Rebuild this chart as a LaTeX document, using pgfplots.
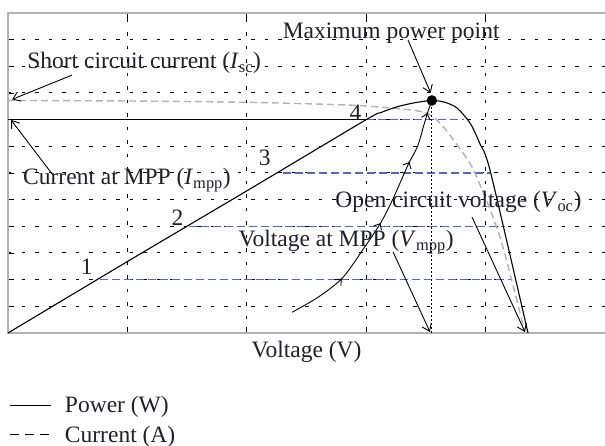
\documentclass[border=0pt]{standalone}
\usepackage{fontspec}
\setmainfont{Liberation Serif}
\usepackage{pgfplots}
\pgfplotsset{compat=1.18}
\usetikzlibrary{arrows.meta,decorations.markings}
\definecolor{lvl}{rgb}{0.30,0.42,0.72}
\definecolor{txt}{rgb}{0.12,0.12,0.18}
\newcommand\lf{\fontsize{23.5}{27}\selectfont}
\begin{document}
\begin{tikzpicture}
\useasboundingbox (-8pt,-113pt) rectangle (597pt,333pt);
\begin{axis}[
  at={(0,0)}, anchor=origin,
  x=119.4pt, y=26.667pt,
  xmin=0, xmax=5.1, ymin=0, ymax=12,
  clip=false,
  axis line style={gray!60, line width=1.6pt},
  xtick={1,2,3,4}, ytick={1,2,...,11},
  xticklabels={}, yticklabels={},
  tick align=inside, major tick length=6pt,
  tick style={black, line width=0.9pt},
  ytick pos=left,
  grid=major,
  major grid style={black, line width=1pt, dash pattern=on 3.5pt off 10pt},
  legend style={at={(axis cs:0,0)}, anchor=north west, draw=none, fill=none,
    inner sep=0pt, outer sep=0pt, xshift=1pt, yshift=-64pt,
    font=\lf, text=txt, row sep=8pt, column sep=14pt,
    nodes={inner sep=0pt, text height=16pt, text depth=5pt}},
  legend cell align=left,
  legend image code/.code={\draw[#1] (0pt,2pt) -- (41pt,2pt);},
]
\addlegendimage{black, line width=1pt}
\addlegendentry{Power (W)}
\addlegendimage{black, line width=1pt, dash pattern=on 9pt off 6pt}
\addlegendentry{Current (A)}

% level lines
\addplot[lvl, line width=1.2pt, dash pattern=on 8pt off 4pt] coordinates {(3.0,8)(3.82,8)};
\addplot[lvl, line width=1.2pt, dash pattern=on 8pt off 4pt] coordinates {(2.30,6)(4.04,6)};
\addplot[lvl, line width=1.2pt, dash pattern=on 8pt off 4pt] coordinates {(1.52,4)(4.16,4)};
\addplot[lvl, line width=1.2pt, dash pattern=on 8pt off 4pt] coordinates {(0.77,2)(4.22,2)};

% current curve
\addplot[gray!60, line width=1.4pt, dash pattern=on 7pt off 4pt, smooth, tension=0.5] coordinates {
 (0,8.72) (1,8.70) (2,8.65) (2.84,8.55) (3.12,8.47) (3.40,8.35) (3.52,8.22)
 (3.60,7.95) (3.68,7.54) (3.81,6.75) (3.91,6.0) (4.12,3.6) (4.33,0)};

% power curve
\addplot[black, line width=1.1pt, smooth, tension=0.45] coordinates {
 (0,0) (1,2.68) (2,5.33) (3.0,8.0) (3.12,8.26) (3.25,8.47) (3.39,8.62)
 (3.55,8.72) (3.66,8.65) (3.76,8.44) (3.87,7.87) (3.95,7.12) (4.04,6.05) (4.355,0)};

% current at MPP line
\addplot[black, line width=1.1pt] coordinates {(0,8)(3.0,8)};

% vertical dotted at Vmpp
\addplot[black, line width=1pt, dash pattern=on 1.5pt off 2.5pt] coordinates {(3.55,0)(3.55,8.6)};

% trajectory with arrows
\addplot[black, line width=0.9pt, smooth,
  postaction={decorate},
  decoration={markings,
    mark=at position 0.23 with {\arrow{Straight Barb[length=5pt,width=9pt]}},
    mark=at position 0.49 with {\arrow{Straight Barb[length=5pt,width=9pt]}},
    mark=at position 0.75 with {\arrow{Straight Barb[length=5pt,width=9pt]}},
    mark=at position 0.95 with {\arrow{Straight Barb[length=5pt,width=9pt]}}}]
 coordinates {(2.38,0.78) (2.6,1.35) (2.8,2.06) (2.97,3.11) (3.12,4.12) (3.22,4.99)
  (3.35,6.3) (3.43,7.0) (3.48,7.75) (3.52,8.35) (3.55,8.7)};

% MPP dot
\addplot[only marks, mark=*, mark size=5pt, black] coordinates {(3.55,8.72)};

% annotation arrows
\addplot[black, line width=0.9pt, -{Straight Barb[length=7pt,width=10pt]}] coordinates {(0.536,9.67)(0.034,8.76)};
\addplot[black, line width=0.9pt, -{Straight Barb[length=7pt,width=10pt]}] coordinates {(0.377,5.92)(0.025,7.99)};
\addplot[black, line width=0.9pt, -{Straight Barb[length=7pt,width=10pt]}] coordinates {(3.35,10.99)(3.54,9.0)};
\addplot[black, line width=0.9pt, -{Straight Barb[length=7pt,width=10pt]}] coordinates {(3.225,3.04)(3.534,0.04)};
\addplot[black, line width=0.9pt, -{Straight Barb[length=7pt,width=10pt]}] coordinates {(3.886,4.35)(4.33,0.04)};

% labels
\node[anchor=west, inner sep=0pt, font=\lf, text=txt] at (axis cs:2.30,11.25) {Maximum power point};
\node[anchor=west, inner sep=0pt, font=\lf, text=txt] at (axis cs:0.16,10.12) {Short circuit current (\textit{I}\textsubscript{sc})};
\node[anchor=west, inner sep=0pt, font=\lf, text=txt] at (axis cs:0.126,5.74) {Current at MPP (\textit{I}\textsubscript{mpp})};
\node[anchor=west, inner sep=0pt, font=\lf, text=txt] at (axis cs:2.74,4.91) {Open circuit voltage (\textit{V}\textsubscript{oc})};
\node[anchor=west, inner sep=0pt, font=\lf, text=txt] at (axis cs:1.93,3.41) {Voltage at MPP (\textit{V}\textsubscript{mpp})};
\node[font=\lf, text=txt] at (axis cs:0.66,2.48) {1};
\node[font=\lf, text=txt] at (axis cs:1.42,4.31) {2};
\node[font=\lf, text=txt] at (axis cs:2.15,6.56) {3};
\node[font=\lf, text=txt] at (axis cs:2.91,8.25) {4};
\node[font=\lf, text=txt, yshift=-19pt] at (axis cs:2.5,0) {Voltage (V)};
\end{axis}
\end{tikzpicture}
\end{document}
